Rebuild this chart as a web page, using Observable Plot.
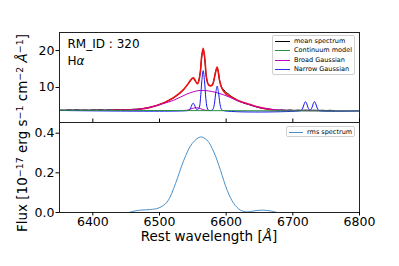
<!DOCTYPE html>
<html><head><meta charset="utf-8">
<script src="https://cdn.jsdelivr.net/npm/d3@7"></script>
<script src="https://cdn.jsdelivr.net/npm/@observablehq/plot@0.6"></script>
<style>
body{margin:0;background:#fff;font-family:"DejaVu Sans",sans-serif;}
#wrap{position:relative;width:399px;height:266px;overflow:hidden;background:#fff;}
#wrap svg{position:absolute;left:0;}
.lab{position:absolute;color:#000;white-space:nowrap;font-family:"DejaVu Sans",sans-serif;}
.legend{position:absolute;background:rgba(255,255,255,0.85);border:1px solid #d0d0d0;border-radius:2px;box-sizing:border-box;font-size:6.5px;font-family:"DejaVu Sans",sans-serif;}
.legend .row{position:absolute;left:0;right:0;height:8px;line-height:8px;}
.legend .sw{position:absolute;height:0;border-top-width:1.2px;border-top-style:solid;top:4px;}
.legend .tx{position:absolute;top:0;}
sup.s{font-size:70%;position:relative;top:-0.45em;vertical-align:baseline;line-height:0;}
</style></head><body><div id="wrap"></div>
<script>
// ---- data ----
const xTicks = [6400, 6500, 6600, 6700, 6800];
const topYTicks = [10, 20];
const botYTicks = [0, 0.2, 0.4];

const contWave = [6350, 6800];
const contFlux = [3.82, 3.62];

const meanWave = [6352,6358,6364,6370,6376,6382,6388,6394,6400,6406,6412,6418,6424,6430,6436,6442,6448,6454,6460,6466,6472,6478,6484,6490,6496,6502,6508,6514,6520,6526,6532,6538,6544,6547,6550.5,6554,6557,6560,6562,6563.5,6565.5,6567,6568.5,6570.5,6573,6576,6579,6582,6584.5,6586.5,6588.5,6591,6594,6597,6600,6603,6606,6610,6614,6618,6622,6627,6632,6637,6642,6648,6654,6660,6666,6672,6678,6684,6690,6696,6702,6708,6714,6720,6726,6732,6738,6744,6750,6756,6762];
const meanFlux = [3.9,3.85,3.95,3.88,3.97,3.86,3.92,3.85,3.95,3.9,3.97,3.87,3.96,3.9,3.98,3.95,4.02,3.98,4.08,4.12,4.2,4.35,4.5,4.85,5.1,5.55,5.9,6.5,7.1,7.8,8.6,9.8,11.2,12.0,12.5,11.6,11.1,12.8,15.6,18.5,20.4,19.0,16.5,12.7,10.9,10.5,10.7,12.3,14.6,15.3,14.0,11.2,9.8,9.3,8.6,8.3,7.8,7.3,6.9,6.4,6.2,5.7,5.5,5.2,4.9,4.6,4.35,4.2,4.05,3.95,3.85,3.92,3.8,3.9,3.78,3.86,3.8,3.86,3.78,3.84,3.76,3.82,3.75,3.8,3.72];

const modelWave = [6430,6450,6470,6486,6506,6521,6536,6544,6550.5,6557,6561,6563,6565.5,6568,6570.5,6574,6579,6583,6586.5,6590,6594,6600,6606,6616,6626,6636,6650,6661,6672];
const modelFlux = [3.82,3.9,4.1,4.6,5.8,7.2,9.4,11.3,12.6,11.0,13.8,18.0,20.6,17.8,12.6,10.6,10.6,13.2,15.5,12.0,9.6,8.2,7.6,6.6,5.9,5.35,4.6,4.2,3.9];

const broadWave = [6350,6420,6450,6470,6490,6505,6521,6541,6561,6586,6606,6621,6636,6651,6666,6685,6710,6800];
const broadFlux = [3.8,3.82,3.9,4.1,4.8,5.6,6.5,8.2,9.2,8.6,7.3,6.1,5.3,4.55,4.1,3.85,3.72,3.65];
const broad2Wave = [6536,6543,6549,6555,6561,6567,6574];
const broad2Flux = [3.74,3.9,4.3,4.5,4.3,3.9,3.74];

const narrowWave = [6350,6542.5,6544.5,6546.5,6548.5,6550.5,6552.5,6554.5,6556.5,6559.5,6561.5,6563.5,6565.5,6567.5,6569.5,6571.5,6573.5,6576,6578.5,6580.5,6582.5,6584.5,6586.5,6588.5,6590.5,6592.5,6594.5,6711,6713,6715,6717,6719,6721,6723,6725.75,6728.5,6730.5,6732.5,6734.5,6736.5,6738.5,6741,6800];
const narrowFlux = [3.76,3.74,3.88,4.35,5.23,5.74,5.23,4.35,3.92,4.5,7.05,11.8,14.55,11.8,7.05,4.5,3.84,3.74,3.8,4.2,5.76,8.65,10.34,8.65,5.76,4.2,3.8,3.68,3.83,4.43,5.52,6.16,5.52,4.45,3.85,4.45,5.52,6.16,5.52,4.43,3.83,3.66,3.62];

const rmsWave = [6440,6454,6462,6471.5,6486.5,6499,6511.5,6524,6536.5,6549,6561.5,6571.5,6581.5,6591.5,6601.5,6611.5,6621.5,6631.5,6641.5,6654,6666.5,6676.5,6690];
const rmsFlux = [-0.01,0.0,0.007,0.012,0.015,0.023,0.053,0.146,0.264,0.348,0.381,0.364,0.305,0.213,0.112,0.045,0.012,0.003,0.008,0.012,0.008,0.0,-0.01];

const legendTop = ["mean spectrum","Continuum model","Broad Gaussian","Narrow Gaussian"];
const legendTopColors = ["#000000","#2a9140","#c000c0","#3030f0"];
const legendBot = ["rms spectrum"];
const legendBotColors = ["#4a90c8"];

// ---- build ----
const pts = (w, f, extra = {}) => w.map((x, i) => ({w: x, f: f[i], ...extra}));
const xDomain = [6350, 6800];
const baseStyle = {fontFamily: "DejaVu Sans, sans-serif", fontSize: "12.5px", background: "transparent", color: "#000", overflow: "visible"};
const wrap = document.getElementById("wrap");

const topPlot = Plot.plot({
  width: 399, height: 123,
  marginLeft: 59, marginRight: 40, marginTop: 32, marginBottom: 1,
  style: baseStyle,
  x: {domain: xDomain},
  y: {domain: [0.5, 24.9]},
  marks: [
    Plot.line(pts(meanWave, meanFlux), {x: "w", y: "f", stroke: "#000", strokeWidth: 1, curve: "catmull-rom", clip: true}),
    Plot.line(pts(modelWave, modelFlux), {x: "w", y: "f", stroke: "#ee1111", strokeWidth: 1.6, curve: "catmull-rom", clip: true}),
    Plot.line([...pts(broadWave, broadFlux, {c: "a"}), ...pts(broad2Wave, broad2Flux, {c: "b"})], {x: "w", y: "f", z: "c", stroke: "#c000c0", strokeWidth: 1, curve: "catmull-rom", clip: true}),
    Plot.line(pts(narrowWave, narrowFlux), {x: "w", y: "f", stroke: "#1515f0", strokeWidth: 1, curve: "catmull-rom", clip: true}),
    Plot.line(pts(contWave, contFlux), {x: "w", y: "f", stroke: "#2a9140", strokeWidth: 1.2, clip: true}),
    Plot.frame({stroke: "#222", strokeWidth: 1}),
    Plot.axisY({ticks: topYTicks, tickSize: 3.5, tickPadding: 1.5, label: null, tickFormat: d => String(d)}),
    Plot.axisX({ticks: xTicks, tickSize: 3.5, dy: -3.5, label: null, tickFormat: () => ""})
  ]
});
topPlot.style.top = "0px";
wrap.appendChild(topPlot);

const botPlot = Plot.plot({
  width: 399, height: 145,
  marginLeft: 59, marginRight: 40, marginTop: 1, marginBottom: 54,
  style: baseStyle,
  x: {domain: xDomain},
  y: {domain: [0, 0.454]},
  marks: [
    Plot.line(pts(rmsWave, rmsFlux), {x: "w", y: "f", stroke: legendBotColors[0], strokeWidth: 1, curve: "catmull-rom", clip: true}),
    Plot.frame({stroke: "#222", strokeWidth: 1}),
    Plot.axisY({ticks: botYTicks, tickSize: 3.5, tickPadding: 1.5, label: null, tickFormat: d => d.toFixed(1)}),
    Plot.axisX({ticks: xTicks, tickSize: 3.5, tickPadding: 1.2, label: null, tickFormat: d => String(d)})
  ]
});
botPlot.style.top = "121px";
wrap.appendChild(botPlot);

function addLab(html, css) {
  const d = document.createElement("div");
  d.className = "lab";
  d.innerHTML = html;
  Object.assign(d.style, css);
  wrap.appendChild(d);
  return d;
}
addLab("RM_ID : 320", {left: "67.5px", top: "38px", fontSize: "12px", lineHeight: "12px"});
addLab("H<i>α</i>", {left: "67.5px", top: "55px", fontSize: "12px", lineHeight: "12px"});
addLab("Rest wavelength [<i>Å</i>]", {left: "59px", width: "300px", textAlign: "center", top: "230px", fontSize: "13.5px", lineHeight: "13.5px"});
addLab('Flux [10<sup class="s">−17</sup> erg s<sup class="s">−1</sup> cm<sup class="s">−2</sup> <i>Å</i><sup class="s">−1</sup>]',
  {left: "21.8px", top: "132.5px", fontSize: "13.5px", lineHeight: "14px", transform: "translate(-50%,-50%) rotate(-90deg)"});

function addLegend(labels, colors, box, rowTops, swLeft, swW, txLeft) {
  const lg = document.createElement("div");
  lg.className = "legend";
  Object.assign(lg.style, {left: box[0] + "px", top: box[1] + "px", width: box[2] + "px", height: box[3] + "px"});
  labels.forEach((t, i) => {
    const r = document.createElement("div");
    r.className = "row";
    r.style.top = rowTops[i] + "px";
    const sw = document.createElement("span");
    sw.className = "sw";
    Object.assign(sw.style, {left: swLeft + "px", width: swW + "px", borderTopColor: colors[i]});
    const tx = document.createElement("span");
    tx.className = "tx";
    tx.style.left = txLeft + "px";
    tx.textContent = t;
    r.appendChild(sw); r.appendChild(tx);
    lg.appendChild(r);
  });
  wrap.appendChild(lg);
}
addLegend(legendTop, legendTopColors, [272, 35, 83, 40], [0.5, 10, 19.5, 29], 1.5, 15.5, 21);
addLegend(legendBot, legendBotColors, [286, 126, 69, 11], [1], 1.5, 14.5, 20);
</script></body></html>
